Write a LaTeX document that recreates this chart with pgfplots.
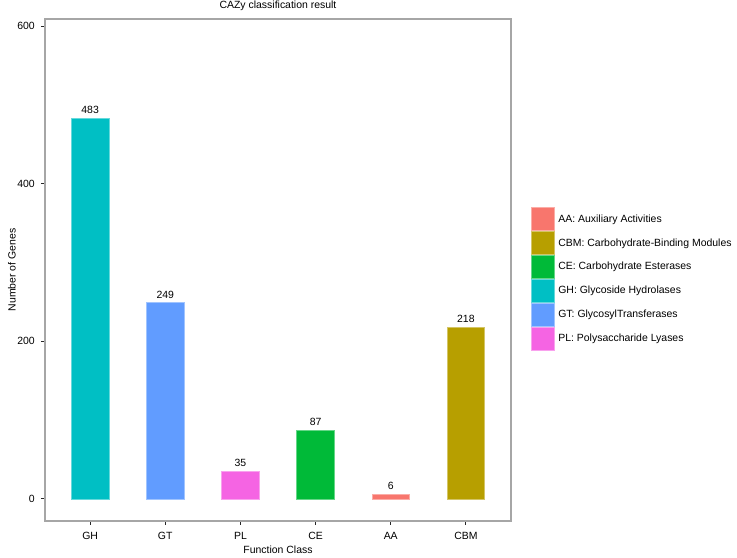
\documentclass[border=0pt]{standalone}
\usepackage{fontspec}
\setmainfont{Liberation Sans}
\usepackage{pgfplots}
\pgfplotsset{compat=1.18}
\definecolor{cAA}{HTML}{F8766D}
\definecolor{cCBM}{HTML}{B79F00}
\definecolor{cCE}{HTML}{00BA38}
\definecolor{cGH}{HTML}{00BFC4}
\definecolor{cGT}{HTML}{619CFF}
\definecolor{cPL}{HTML}{F564E3}
\newcommand{\fs}{\fontsize{10.5}{12}\selectfont}
\begin{document}
\begin{tikzpicture}
\useasboundingbox (0,0) rectangle (737bp,558bp);
\begin{axis}[
  at={(45bp,37bp)}, anchor=south west,
  scale only axis, width=466bp, height=502bp,
  xmin=-0.6, xmax=5.6, ymin=-28, ymax=609,
  xtick={0,1,2,3,4,5}, xticklabels={GH,GT,PL,CE,AA,CBM},
  ytick={0,200,400,600},
  tick align=outside, xtick pos=left, ytick pos=left,
  major tick length=4bp,
  tick style={black!85, line width=0.9bp},
  axis line style={draw=black!35, line width=1.1bp},
  /pgf/number format/assume math mode=true,
  ticklabel style={font=\fs},
  xticklabel style={anchor=base, yshift=-14bp, inner sep=0pt},
  yticklabel style={anchor=east, inner sep=0pt, xshift=-6bp},
  title={CAZy classification result},
  title style={at={(axis description cs:0.5,1)}, anchor=base, yshift=4.5bp, inner sep=0pt, font=\fs},
  xlabel={Function Class},
  xlabel style={at={(axis description cs:0.5,0)}, anchor=base, yshift=-32bp, inner sep=0pt, font=\fs},
  ylabel={Number of Genes},
  ylabel style={at={(axis description cs:-0.0633,0.5)}, anchor=base, inner sep=0pt, font=\fs},
  nodes near coords,
  every node near coord/.append style={anchor=south, inner sep=0pt, yshift=4bp, font=\fs, text=black},
  legend cell align=left,
  legend image code/.code={\fill[#1] (0bp,-11.65bp) rectangle (23bp,11.65bp);},
  legend style={at={(axis description cs:1.043,0.6255)}, anchor=north west, draw=none, fill=none,
    inner sep=0pt, row sep=0pt, column sep=0pt,
    nodes={inner xsep=3.5bp, inner ysep=0pt, minimum height=23.3bp, font=\fs}},
]
\addplot[ybar, bar width=0.5, fill=cAA, draw=cAA!60!white, line width=0.6bp] coordinates {(4,6)};
\addlegendentry{AA: Auxiliary Activities}
\addplot[ybar, bar width=0.5, fill=cCBM, draw=cCBM!60!white, line width=0.6bp] coordinates {(5,218)};
\addlegendentry{CBM: Carbohydrate-Binding Modules}
\addplot[ybar, bar width=0.5, fill=cCE, draw=cCE!60!white, line width=0.6bp] coordinates {(3,87)};
\addlegendentry{CE: Carbohydrate Esterases}
\addplot[ybar, bar width=0.5, fill=cGH, draw=cGH!60!white, line width=0.6bp] coordinates {(0,483)};
\addlegendentry{GH: Glycoside Hydrolases}
\addplot[ybar, bar width=0.5, fill=cGT, draw=cGT!60!white, line width=0.6bp] coordinates {(1,249)};
\addlegendentry{GT: GlycosylTransferases}
\addplot[ybar, bar width=0.5, fill=cPL, draw=cPL!60!white, line width=0.6bp] coordinates {(2,35)};
\addlegendentry{PL: Polysaccharide Lyases}
\end{axis}
\end{tikzpicture}
\end{document}
